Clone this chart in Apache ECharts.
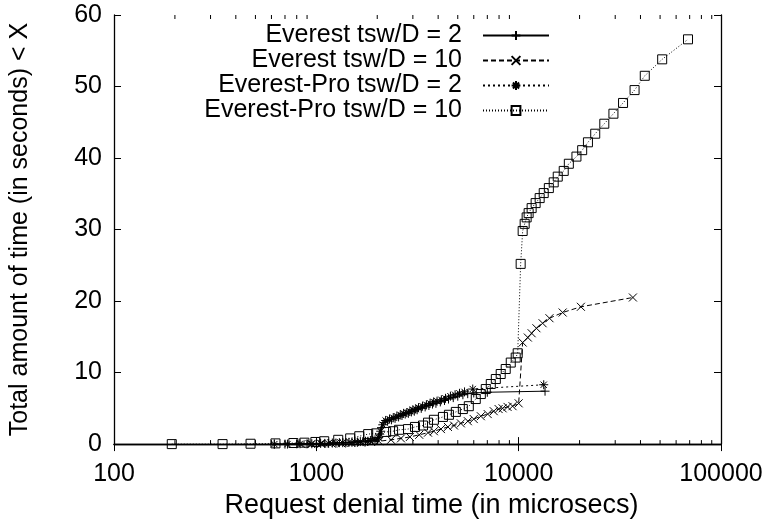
<!DOCTYPE html>
<html><head><meta charset="utf-8">
<script src="https://cdn.jsdelivr.net/npm/echarts@6/dist/echarts.min.js"></script>
<style>html,body{margin:0;padding:0;background:#fff}#c{width:771px;height:524px}</style>
</head><body><div id="c"></div>
<script>
// ---- data ----
const seriesNames = ['Everest tsw/D = 2', 'Everest tsw/D = 10', 'Everest-Pro tsw/D = 2', 'Everest-Pro tsw/D = 10'];

const x1 = [620, 700, 800, 900, 1000, 1100, 1200, 1300, 1400, 1500, 1600, 1700, 1800, 1900, 2000, 2050, 2100, 2160, 2250, 2350, 2450, 2550, 2650, 2750, 2850, 2950, 3050, 3150, 3300, 3450, 3600, 3750, 3900, 4100, 4300, 4500, 4750, 5000, 5300, 5600, 6000, 7000, 13500];
const y1 = [0, 0, 0.05, 0.05, 0.1, 0.1, 0.15, 0.2, 0.2, 0.25, 0.3, 0.35, 0.4, 0.5, 0.7, 1.4, 2.3, 3.0, 3.2, 3.4, 3.6, 3.8, 4.0, 4.2, 4.3, 4.5, 4.6, 4.8, 5.0, 5.2, 5.4, 5.6, 5.7, 5.9, 6.1, 6.3, 6.5, 6.7, 6.9, 7.05, 7.15, 7.25, 7.4];

const x2 = [844, 944, 1059, 1186, 1330, 1490, 1666, 1866, 2040, 2340, 2620, 2900, 3225, 3564, 3811, 4130, 4470, 4790, 5180, 5610, 6000, 6500, 7030, 7530, 7960, 8330, 8810, 9330, 10000, 10465, 11100, 11590, 12240, 13130, 14200, 16500, 20300, 36700];
const y2 = [0, 0, 0.05, 0.1, 0.1, 0.15, 0.2, 0.3, 0.4, 0.6, 0.8, 1.0, 1.3, 1.6, 1.8, 2.1, 2.4, 2.6, 2.9, 3.2, 3.5, 3.9, 4.2, 4.6, 4.9, 5.0, 5.2, 5.3, 5.7, 14.2, 14.9, 15.5, 16.2, 16.9, 17.6, 18.4, 19.2, 20.5];

const x3 = [620, 720, 830, 950, 1050, 1150, 1250, 1350, 1450, 1550, 1650, 1750, 1850, 1950, 2030, 2080, 2130, 2200, 2300, 2400, 2500, 2600, 2700, 2800, 2900, 3000, 3100, 3200, 3350, 3500, 3650, 3800, 3950, 4150, 4350, 4600, 4850, 5100, 5400, 5930, 13300];
const y3 = [0, 0, 0.05, 0.05, 0.1, 0.1, 0.15, 0.2, 0.25, 0.3, 0.35, 0.4, 0.5, 0.6, 0.9, 1.8, 2.7, 3.3, 3.5, 3.7, 3.9, 4.1, 4.3, 4.4, 4.6, 4.8, 4.9, 5.1, 5.3, 5.5, 5.7, 5.9, 6.0, 6.2, 6.4, 6.7, 6.9, 7.1, 7.3, 7.7, 8.3];

const x4 = [193, 344, 473, 628, 770, 873, 989, 1094, 1283, 1470, 1630, 1804, 1976, 2213, 2395, 2563, 2839, 3073, 3366, 3564, 3811, 4224, 4522, 4893, 5297, 5670, 6138, 6500, 6877, 7280, 7710, 8150, 8630, 9140, 9670, 9890, 10230, 10465, 10707, 10950, 11200, 11590, 12130, 12700, 13300, 14100, 14900, 15600, 16700, 17700, 19300, 20600, 22000, 23900, 26500, 29400, 32800, 37400, 42000, 51200, 68700];
const y4 = [0, 0, 0.05, 0.1, 0.15, 0.2, 0.3, 0.4, 0.6, 0.8, 1.1, 1.4, 1.5, 1.7, 1.8, 2.0, 2.1, 2.4, 2.6, 3.0, 3.4, 3.8, 4.1, 4.5, 4.9, 5.3, 6.3, 7.0, 7.7, 8.4, 9.1, 9.8, 10.5, 11.4, 12.1, 12.7, 25.2, 29.8, 30.8, 31.7, 32.3, 33.0, 33.7, 34.4, 35.1, 35.8, 36.6, 37.4, 38.2, 39.2, 40.2, 41.1, 42.2, 43.4, 44.8, 46.2, 47.7, 49.5, 51.5, 53.8, 56.6];

const xMinorTicks = [200, 300, 400, 500, 600, 700, 800, 900, 2000, 3000, 4000, 5000, 6000, 7000, 8000, 9000, 20000, 30000, 40000, 50000, 60000, 70000, 80000, 90000];
const xTickLabels = ['100', '1000', '10000', '100000'];
const yTickLabels = ['0', '10', '20', '30', '40', '50', '60'];

const xName = 'Request denial time (in microsecs)';
const yName = 'Total amount of time (in seconds) < X';

// ---- styling ----
const FONT = "'Liberation Sans', Arial, Helvetica, sans-serif";
const FS = 25;
const BLACK = '#000';
const zip = (xs, ys) => xs.map((x, i) => [x, ys[i]]);

const symPlus = 'path://M0,5L10,5M5,0L5,10';
const symCross = 'path://M0,0L10,10M0,10L10,0';
const symStar = 'path://M0,5L10,5M5,0L5,10M1.5,1.5L8.5,8.5M1.5,8.5L8.5,1.5';
const symSquare = 'path://M0,0L10,0L10,10L0,10Z';

function lineSeries(name, data, symbol, dash, size) {
  return {
    name, type: 'line', data, symbol, symbolSize: size, showAllSymbol: true,
    xAxisIndex: 0, yAxisIndex: 0,
    lineStyle: { color: BLACK, width: 1, type: dash },
    itemStyle: { color: 'rgba(0,0,0,0)', borderColor: BLACK, borderWidth: 1 },
    emphasis: { disabled: true },
    animation: false
  };
}

const chart = echarts.init(document.getElementById('c'), null, { renderer: 'canvas' });
const baseX = {
  type: 'log', logBase: 10, min: 100, max: 100000, gridIndex: 0,
  axisLine: { show: true, lineStyle: { color: BLACK, width: 1.3 } },
  axisTick: { show: true, inside: true, length: 7, lineStyle: { color: BLACK } },
  splitLine: { show: false }, minorTick: { show: false }
};
const baseY = {
  type: 'value', min: 0, max: 60, interval: 10, gridIndex: 0,
  axisLine: { show: true, lineStyle: { color: BLACK, width: 1.3 } },
  axisTick: { show: true, inside: true, length: 7, lineStyle: { color: BLACK } },
  splitLine: { show: false }
};

chart.setOption({
  animation: false,
  backgroundColor: '#fff',
  grid: { left: 112, right: 50, top: 15, bottom: 79, containLabel: false },
  legend: {
    data: seriesNames, orient: 'vertical', align: 'right',
    right: 216, top: 18, itemWidth: 66, itemHeight: 11, itemGap: 0,
    textStyle: { fontFamily: FONT, fontSize: FS, color: BLACK, padding: [0, 16, 0, 0] },
    selectedMode: false
  },
  xAxis: [
    Object.assign({}, baseX, {
      position: 'bottom',
      axisLabel: { color: BLACK, fontFamily: FONT, fontSize: FS, margin: 18,
        formatter: v => xTickLabels.find(t => Number(t) === Math.round(v)) || '' },
      name: xName, nameLocation: 'middle', nameGap: 43,
      nameTextStyle: { color: BLACK, fontFamily: FONT, fontSize: 27, padding: [0, 0, 0, 28] }
    }),
    Object.assign({}, baseX, { position: 'top', axisLabel: { show: false } })
  ],
  yAxis: [
    Object.assign({}, baseY, {
      position: 'left',
      axisLabel: { color: BLACK, fontFamily: FONT, fontSize: FS, margin: 12,
        formatter: v => yTickLabels[Math.round(v / 10)] },
      name: yName, nameLocation: 'middle', nameGap: 81,
      nameTextStyle: { color: BLACK, fontFamily: FONT, fontSize: FS }
    }),
    Object.assign({}, baseY, { position: 'right', axisLabel: { show: false } })
  ],
  series: [
    lineSeries(seriesNames[0], zip(x1, y1), symPlus, 'solid', 9),
    lineSeries(seriesNames[1], zip(x2, y2), symCross, [5, 3], 8),
    lineSeries(seriesNames[2], zip(x3, y3), symStar, [2, 3], 9),
    lineSeries(seriesNames[3], zip(x4, y4), symSquare, [1, 2], 9),
    {
      type: 'custom', xAxisIndex: 0, yAxisIndex: 0, silent: true, clip: false,
      data: xMinorTicks.map(v => [v, 0]),
      encode: { x: 0, y: 1 },
      renderItem: (params, api) => {
        const v = api.value(0);
        const b = api.coord([v, 0]);
        const t = api.coord([v, 60]);
        const st = { stroke: BLACK, lineWidth: 1 };
        return { type: 'group', children: [
          { type: 'line', shape: { x1: b[0], y1: b[1], x2: b[0], y2: b[1] - 4 }, style: st },
          { type: 'line', shape: { x1: t[0], y1: t[1], x2: t[0], y2: t[1] + 4 }, style: st }
        ] };
      }
    }
  ]
});
</script>
</body></html>
